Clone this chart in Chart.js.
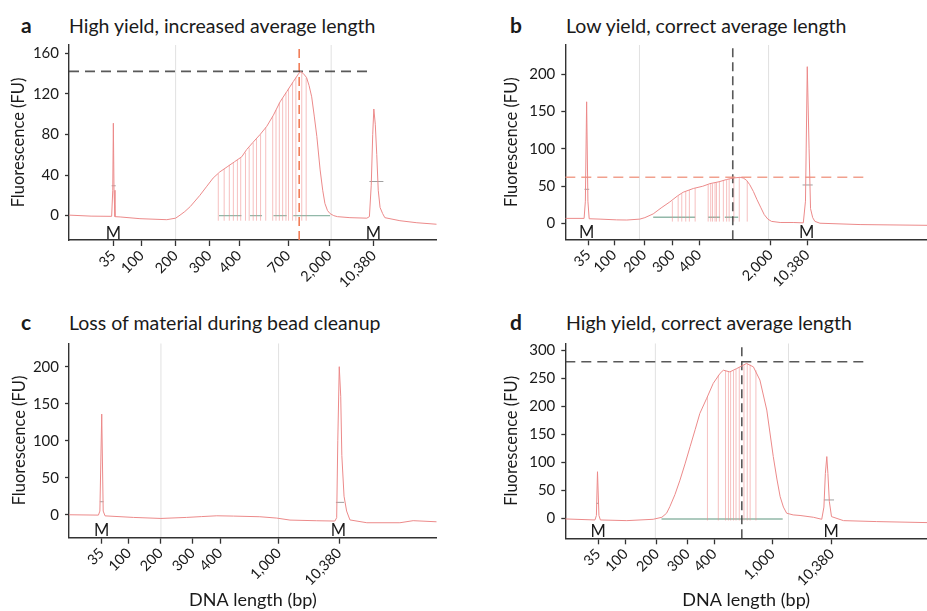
<!DOCTYPE html>
<html>
<head>
<meta charset="utf-8">
<script src="https://cdn.jsdelivr.net/npm/chart.js@4.4.1/dist/chart.umd.min.js"></script>
<style>
  body { margin: 0; width: 927px; height: 611px; position: relative; overflow: hidden; background: #fff; font-family: Lato, sans-serif; color: #1a1a1a; }
  canvas { position: absolute; }
  .ttl { position: absolute; font-size: 19.5px; line-height: 22px; white-space: nowrap; }
  .ttl b { display: inline-block; font-size: 21px; }
</style>
</head>
<body>
<div class="ttl" style="left:21px;top:14px"><b style="width:48px">a</b>High yield, increased average length</div>
<div class="ttl" style="left:510px;top:14px"><b style="width:56px">b</b>Low yield, correct average length</div>
<div class="ttl" style="left:21px;top:311px"><b style="width:48px">c</b>Loss of material during bead cleanup</div>
<div class="ttl" style="left:510px;top:311px"><b style="width:56px">d</b>High yield, correct average length</div>
<canvas id="ca" width="463" height="262" style="left:0;top:38px"></canvas>
<canvas id="cb" width="464" height="262" style="left:463px;top:38px"></canvas>
<canvas id="cc" width="463" height="275" style="left:0;top:336px"></canvas>
<canvas id="cd" width="464" height="275" style="left:463px;top:336px"></canvas>
<script>
// x values are relative migration position (0-100) along each electropherogram

// ---- panel a
const aTickPos = [12.06, 19.76, 29.0, 38.2, 46.3, 59.6, 70.8, 82.9];
const aTickLabels = ['35', '100', '200', '300', '400', '700', '2,000', '10,380'];
const aYTicks = [0, 40, 80, 120, 160];
const aGrid = [29.0, 71.3];
const aX = [0, 6, 11.6, 11.9, 12.06, 12.24, 12.5, 13.9, 19.3, 26.6, 29.0, 30.2, 31.5, 33, 35.6, 37.5, 39.2, 41, 43, 45,
  47, 48.3, 50, 52, 53.8, 55.6, 57.4, 59.2, 61, 62.4, 63, 63.7, 64.6, 65.3, 66.0, 66.7, 67.4, 68.3, 69.0, 69.6,
  70.3, 71.0, 72, 73, 76.4, 81.0, 81.7, 82.2, 82.6, 82.9, 83.3, 83.7, 84.1, 84.6, 85.3, 85.9, 90, 94.6, 100];
const aY = [0.5, -0.5, -0.7, 25, 91, 25, -1, -1.3, -3, -4, -2.5, 0.5, 4, 9, 20, 29, 37, 43, 48, 53,
  58, 65, 72, 80, 88, 99, 112, 122, 132, 139.5, 142, 140, 136, 128, 117, 98, 78, 45, 25, 12,
  5, 2, 0, -1, -2, -2.5, -1, 30, 80, 105, 90, 60, 25, 8, 2, -2, -5, -7, -8.5];
const aFragX = [40.6, 42.2, 43.6, 44.7, 45.8, 46.7, 48.0, 49.0, 50.1, 51.0, 52.1, 53.5, 55.4, 56.3, 57.2, 58.1, 59.0, 59.7, 60.8, 61.7, 63.3, 64.5];
const aFragTop = [41, 46, 50, 52, 55, 57, 62, 67, 72, 76, 80, 87, 98, 104, 111, 116, 121, 125, 131, 136, 141, 136];
const aGreen = [[40.8, 46.9], [49.2, 52.5], [55.6, 59.2], [61.0, 71.0]];
const aMarkTicks = [[11.6, 12.7, 29.4], [81.7, 85.5, 33.6]];
const aPeak = { y: 142, xEnd: 82.6, x: 62.6 };
const aM = [12.06, 82.8];

// ---- panel b
const bTickPos = [6.36, 13.5, 21.8, 29.7, 37.0, 56.8, 66.9];
const bTickLabels = ['35', '100', '200', '300', '400', '2,000', '10,380'];
const bYTicks = [0, 50, 100, 150, 200];
const bGrid = [20.5, 56.2];
const bX = [0, 5.2, 5.55, 5.9, 6.25, 6.6, 9.6, 14.2, 17.0, 20.6, 22, 24.3, 26.5, 28.9, 31, 32.6, 35.4, 38, 40, 42.5,
  44.6, 46.5, 48.3, 49.2, 50.1, 51, 52, 53, 54, 55, 56, 57, 59.4, 63.0, 65.8, 66.4, 66.9, 67.4, 67.8, 68.4,
  69.0, 70.4, 81.5, 100];
const bY = [7, 7, 30, 163, 30, 6.5, 6, 5, 4.8, 6, 8, 13, 21, 29, 37, 42, 47, 50, 53.5, 56,
  59, 61, 62, 61, 58, 52, 43, 32, 22, 12, 6, 3, 1.5, 1.5, 1, 30, 210, 100, 20, 8,
  3, 0.5, -1.3, -2.3];
const bFragX = [29.6, 31.2, 32.2, 33.3, 34.3, 35.9, 39.5, 40.2, 40.7, 41.4, 41.8, 42.6, 43.7, 44.6, 45.3, 46.6, 48.1, 50.3];
const bFragTop = [30, 37, 40, 43, 45, 47.5, 52, 53, 53.5, 54.5, 55, 56, 58, 59, 60, 61, 62, 57];
const bGreen = [[24.3, 35.9], [39.5, 42.8], [44.1, 47.8]];
const bMarkTicks = [[5.3, 6.6, 45.9], [65.6, 68.4, 51.7]];
const bPeak = { y: 62, xEnd: 83.8, x: 46.3 };
const bM = [5.9, 66.7];

// ---- panel c
const cTickPos = [8.9, 16.3, 24.9, 33.6, 41.1, 57.1, 73.5];
const cTickLabels = ['35', '100', '200', '300', '400', '1,000', '10,380'];
const cYTicks = [0, 50, 100, 150, 200];
const cGrid = [25.0, 57.0];
const cX = [0, 8.0, 8.4, 8.9, 9.3, 9.8, 17.5, 25.0, 32.0, 36, 40.2, 44.7, 51.9, 56.5, 60.1, 67.4, 72.3, 72.8, 73.1, 73.5,
  73.9, 74.2, 74.8, 75.5, 76.4, 81.0, 90.0, 93.6, 100];
const cY = [0, -0.5, 5, 136, 5, -1.5, -3.6, -5, -3.6, -2.5, -1.4, -1.8, -2.7, -4.5, -7.2, -8.1, -8.5, -4, 100, 200,
  160, 80, 25, 5, -7, -10.8, -10.8, -8, -9.5];
const cMarkTicks = [[8.4, 9.4, 17.6], [72.6, 74.8, 16.7]];
const cM = [8.9, 73.3];

// ---- panel d
const dTickPos = [9.1, 16.7, 25.3, 33.8, 41.2, 57.3, 73.7];
const dTickLabels = ['35', '100', '200', '300', '400', '1,000', '10,380'];
const dYTicks = [0, 50, 100, 150, 200, 250, 300];
const dGrid = [24.9, 61.7];
const dX = [0, 8.2, 8.6, 8.9, 9.3, 9.7, 17.0, 24.3, 26.7, 28.0, 28.9, 30.3, 31.7, 33.1, 34.5, 35.9, 37.2, 39.1, 40.9, 42.8,
  43.7, 45.5, 47.4, 50.1, 52.0, 53.8, 55.7, 57.5, 58.5, 59.4, 60.3, 61.2, 63.0, 64.9, 68.6, 70.9, 71.5, 71.9, 72.3, 72.6,
  73.0, 73.6, 76.9, 86.1, 100];
const dY = [-1.2, -3, 5, 83, 5, -3, -4.2, -1.8, 1.8, 9, 20.7, 42, 68, 97, 127.6, 158, 187, 214, 240.6, 258.5,
  264, 261, 267, 276, 270, 246.5, 193, 110, 70, 38.5, 20, 9, 6, 5, 1.8, -1.8, 20, 80, 110, 80,
  30, 3, -4.2, -5.9, -7.7];
const dFragX = [39.3, 42.3, 44.3, 45.1, 45.7, 46.5, 47.2, 48.1, 49.4, 50.3, 51.1, 52.7];
const dFragTop = [216, 255, 263, 262, 261, 263, 266, 269, 273, 276, 274, 264];
const dGreen = [[26.6, 60.1]];
const dMarkTicks = [[8.6, 9.3, 26.7], [71.5, 74.3, 32.7]];
const dPeak = { y: 279, xEnd: 83.8, x: 48.8 };
const dM = [9.1, 73.5];

const CURVE = 'rgb(236,138,138)';
const FRAG = 'rgba(238,140,140,0.55)';
const GRID = 'rgba(0,0,0,0.12)';
const DARKDASH = 'rgba(60,60,60,0.85)';
const FONT = 'Lato, sans-serif';

function line(data, color, width, dash) {
  return { data, borderColor: color, borderWidth: width, borderDash: dash || [], pointRadius: 0, tension: 0, fill: false, spanGaps: false };
}
function vSegs(xs, lo, hi) {
  const pts = [];
  xs.forEach((x, i) => pts.push({ x, y: lo }, { x, y: Array.isArray(hi) ? hi[i] : hi }, { x, y: null }));
  return pts;
}
function hSegs(list, y) {
  const pts = [];
  list.forEach(s => pts.push({ x: s[0], y: s.length > 2 ? s[2] : y }, { x: s[1], y: s.length > 2 ? s[2] : y }, { x: s[1], y: null }));
  return pts;
}

const mLabels = {
  id: 'mLabels',
  afterDatasetsDraw(chart, args, opts) {
    const { ctx, chartArea, scales } = chart;
    ctx.save();
    ctx.font = '16.5px ' + FONT;
    ctx.fillStyle = '#1a1a1a';
    ctx.textAlign = 'center';
    ctx.textBaseline = 'alphabetic';
    opts.at.forEach(v => ctx.fillText('M', scales.x.getPixelForValue(v), chartArea.bottom - 1.5));
    ctx.restore();
  }
};

function makeChart(id, p) {
  const curve = p.x.map((x, i) => ({ x, y: p.y[i] }));
  const datasets = [line(curve, CURVE, 1)];
  if (p.peak) {
    datasets.push(line([{ x: 0, y: p.peak.y }, { x: p.peak.xEnd, y: p.peak.y }], p.hColor, 1.6, [10, 6]));
    datasets.push(line([{ x: p.peak.x, y: p.ymin }, { x: p.peak.x, y: p.ymax }], p.vColor, 1.6, [9, 5]));
  }
  datasets.push(line(hSegs(p.markTicks), 'rgba(120,120,120,0.7)', 1));
  if (p.fragX) datasets.push(line(vSegs(p.fragX, p.fragLow, p.fragTop), FRAG, 1));
  if (p.green) datasets.push(line(hSegs(p.green, p.greenY), 'rgba(110,160,140,0.75)', 1.4));
  datasets.push(line(vSegs(p.grid, p.ymin, p.ymax), GRID, 1));

  return new Chart(document.getElementById(id), {
    type: 'line',
    data: { datasets },
    plugins: [mLabels],
    options: {
      responsive: false,
      animation: false,
      events: [],
      layout: { padding: { top: p.padTop, right: p.padRight, bottom: 0, left: 0 } },
      plugins: { legend: { display: false }, tooltip: { enabled: false }, mLabels: { at: p.m } },
      scales: {
        x: {
          type: 'linear', min: 0, max: 100,
          afterBuildTicks: s => { s.ticks = p.ticks.map(v => ({ value: v })); },
          afterFit: s => { s.height = p.xH; s.paddingLeft = 0; s.paddingRight = 0; },
          ticks: { autoSkip: false, maxRotation: 45, minRotation: 45, padding: 1, color: '#1a1a1a',
            font: { family: FONT, size: 14.5 }, callback: (v, i) => p.labels[i] },
          grid: { drawOnChartArea: false, tickLength: 6, tickColor: '#333', tickWidth: 1.3 },
          border: { color: '#333', width: 1.4 },
          title: { display: !!p.xTitle, text: p.xTitle || '', color: '#1a1a1a', font: { family: FONT, size: 18 }, padding: { top: 0, bottom: 0 } }
        },
        y: {
          min: p.ymin, max: p.ymax,
          afterBuildTicks: s => { s.ticks = p.yTicks.map(v => ({ value: v })); },
          afterFit: s => { s.width = p.yW; s.paddingTop = 0; s.paddingBottom = 0; },
          ticks: { padding: 6, color: '#1a1a1a', font: { family: FONT, size: 15 } },
          grid: { drawOnChartArea: false, tickLength: 4, tickColor: '#333', tickWidth: 1.3 },
          border: { color: '#333', width: 1.4 },
          title: { display: true, text: 'Fluorescence (FU)', color: '#1a1a1a', font: { family: FONT, size: 16.5 }, padding: { top: p.yTitlePad, bottom: 0 } }
        }
      }
    }
  });
}

makeChart('ca', { x: aX, y: aY, ticks: aTickPos, labels: aTickLabels, yTicks: aYTicks, grid: aGrid, ymin: -24, ymax: 168,
  fragX: aFragX, fragTop: aFragTop, fragLow: -5, green: aGreen, greenY: 0, markTicks: aMarkTicks, m: aM,
  peak: aPeak, hColor: DARKDASH, vColor: 'rgba(240,120,80,0.95)',
  yW: 69, padTop: 7, padRight: 26.3, xH: 60, yTitlePad: 8.4 });
makeChart('cb', { x: bX, y: bY, ticks: bTickPos, labels: bTickLabels, yTicks: bYTicks, grid: bGrid, ymin: -21, ymax: 239,
  fragX: bFragX, fragTop: bFragTop, fragLow: 2.7, green: bGreen, greenY: 8.5, markTicks: bMarkTicks, m: bM,
  peak: bPeak, hColor: 'rgba(240,150,130,0.9)', vColor: DARKDASH,
  yW: 102.3, padTop: 7, padRight: 0, xH: 60.7, yTitlePad: 38.8 });
makeChart('cc', { x: cX, y: cY, ticks: cTickPos, labels: cTickLabels, yTicks: cYTicks, grid: cGrid, ymin: -31, ymax: 231.6,
  markTicks: cMarkTicks, m: cM, xTitle: 'DNA length (bp)',
  yW: 69, padTop: 7.3, padRight: 26.3, xH: 73.3, yTitlePad: 9.4 });
makeChart('cd', { x: dX, y: dY, ticks: dTickPos, labels: dTickLabels, yTicks: dYTicks, grid: dGrid, ymin: -35.7, ymax: 312,
  fragX: dFragX, fragTop: dFragTop, fragLow: -4, green: dGreen, greenY: -1.2, markTicks: dMarkTicks, m: dM,
  peak: dPeak, hColor: DARKDASH, vColor: DARKDASH, xTitle: 'DNA length (bp)',
  yW: 102.3, padTop: 7.3, padRight: 0, xH: 72.7, yTitlePad: 38.8 });
</script>
</body>
</html>
